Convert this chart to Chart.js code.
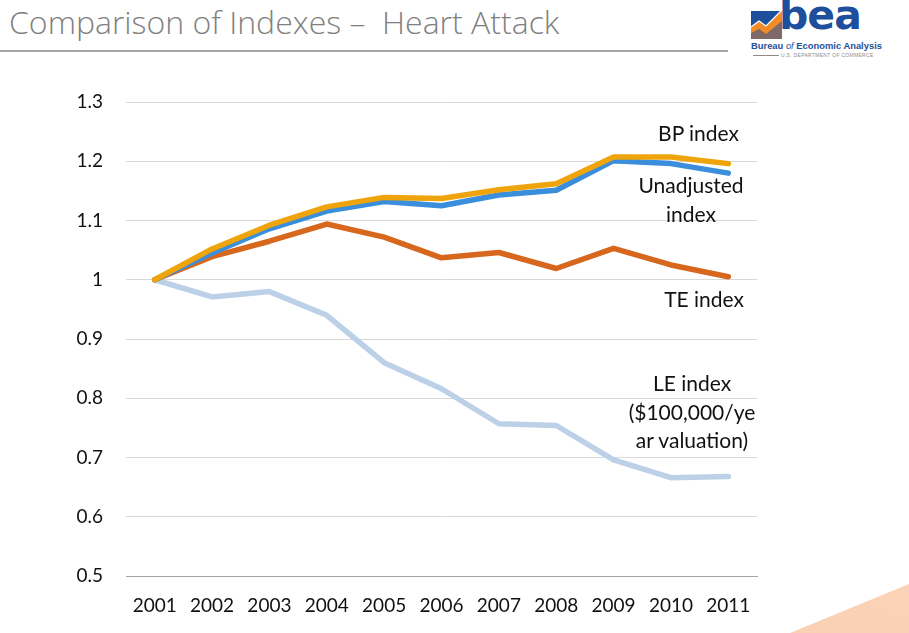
<!DOCTYPE html>
<html>
<head>
<meta charset="utf-8">
<script src="https://cdn.jsdelivr.net/npm/chart.js@4.4.1/dist/chart.umd.min.js"></script>
<style>
  html, body { margin: 0; padding: 0; background: #fff; }
  body { width: 909px; height: 633px; position: relative; overflow: hidden; font-family: Lato, "Open Sans", sans-serif; }
  #title { position: absolute; left: 9px; top: 0px; font-family: "Open Sans", Lato, sans-serif; font-size: 32px; color: #808080; font-weight: 300; white-space: nowrap; }
  #rule { position: absolute; left: 0; top: 50px; width: 728px; height: 2px; background: #a6a6a6; }
  #corner { position: absolute; left: 0; top: 0; width: 909px; height: 633px;
            background: linear-gradient(200deg, #fde7d8 0%, #f9c6a3 100%);
            clip-path: polygon(790px 633px, 909px 584px, 909px 633px); }
  canvas { position: absolute; left: 0; top: 0; }
  .lbl { position: absolute; font-size: 21px; color: #111; line-height: 29px; white-space: nowrap; }
  #logo { position: absolute; left: 751px; top: 0px; width: 130px; height: 62px; }
  #logo .bea { position: absolute; left: 28px; top: -9px; font-family: "DejaVu Sans", sans-serif; font-weight: bold; font-size: 41px; color: #1e4f9c; letter-spacing: -1px; }
  #logo .bur { position: absolute; left: 0px; top: 40px; font-family: "Liberation Sans", Arial, sans-serif; font-size: 9.4px; color: #1e4f9c; font-weight: bold; white-space: nowrap; }
  #logo .doc { position: absolute; left: 30px; top: 52px; font-family: "Liberation Sans", Arial, sans-serif; font-size: 5px; color: #8c8c8c; white-space: nowrap; letter-spacing: 0.3px; }
  #logo .ln { position: absolute; left: 2px; top: 55px; width: 26px; height: 1px; background: #8c8c8c; }
</style>
</head>
<body>
<div id="corner"></div>
<div id="title">Comparison of Indexes –&nbsp; Heart Attack</div>
<div id="rule"></div>
<div id="logo">
  <svg width="32" height="32" style="position:absolute;left:0;top:7px">
    <rect x="0" y="4" width="31" height="28" fill="#1e4f9c"/>
    <polygon points="0,32 0,20 8,14 15,19 31,3 31,32" fill="#f28c28"/>
    <polygon points="0,32 0,26 8,22 15,27 31,14 31,32" fill="#1e4f9c" opacity="0.55"/>
    <polyline points="0,20 8,14 15,19 31,3" fill="none" stroke="#fff" stroke-width="1.2"/>
  </svg>
  <span class="bea">bea</span>
  <span class="bur">Bureau <i style="font-weight:normal">of</i> Economic Analysis</span>
  <span class="ln"></span>
  <span class="doc">U.S. DEPARTMENT OF COMMERCE</span>
</div>
<canvas id="c" width="909" height="633"></canvas>
<div class="lbl" style="left:600px; top:118px; width:139px; text-align:right;">BP index</div>
<div class="lbl" style="left:621px; top:170px; width:140px; text-align:center;">Unadjusted<br>index</div>
<div class="lbl" style="left:600px; top:284px; width:144px; text-align:right;">TE index</div>
<div class="lbl" style="left:622px; top:369px; width:140px; text-align:center; line-height:28.5px;">LE index<br>($100,000/ye<br>ar valuation)</div>
<script>
const years = ["2001","2002","2003","2004","2005","2006","2007","2008","2009","2010","2011"];
const bpIndex = [1.000, 1.052, 1.092, 1.123, 1.139, 1.137, 1.152, 1.162, 1.207, 1.207, 1.196];
const unadjustedIndex = [1.000, 1.045, 1.086, 1.116, 1.132, 1.125, 1.143, 1.151, 1.201, 1.196, 1.180];
const teIndex = [1.000, 1.039, 1.065, 1.094, 1.072, 1.037, 1.046, 1.019, 1.053, 1.025, 1.005];
const leIndex = [1.000, 0.971, 0.980, 0.940, 0.860, 0.816, 0.757, 0.754, 0.696, 0.666, 0.668];
const yMin = 0.5, yMax = 1.3, yStep = 0.1;

const common = { fill: false, tension: 0, pointRadius: 0, borderWidth: 5.5, borderJoinStyle: 'round', borderCapStyle: 'round' };
new Chart(document.getElementById('c'), {
  type: 'line',
  data: {
    labels: years,
    datasets: [
      Object.assign({ label: 'LE index', data: leIndex, borderColor: '#bcd0e8', order: 4 }, common),
      Object.assign({ label: 'TE index', data: teIndex, borderColor: '#d8671e', order: 3 }, common),
      Object.assign({ label: 'Unadjusted index', data: unadjustedIndex, borderColor: '#3a8edc', order: 2 }, common),
      Object.assign({ label: 'BP index', data: bpIndex, borderColor: '#eea40a', order: 1 }, common)
    ]
  },
  options: {
    responsive: false,
    animation: false,
    layout: { padding: { left: 0, top: 102, right: 152, bottom: 0 } },
    plugins: { legend: { display: false }, tooltip: { enabled: false } },
    scales: {
      x: {
        offset: true,
        grid: { display: false, drawTicks: false },
        border: { display: true, color: '#a6a6a6', width: 1 },
        ticks: { color: '#111', font: { family: 'Lato, "Open Sans", sans-serif', size: 19 }, padding: 18, maxRotation: 0, autoSkip: false },
        afterFit: s => { s.height = 57; }
      },
      y: {
        min: yMin, max: yMax,
        grid: { color: ctx => ctx.tick.value <= yMin + 1e-9 ? '#a6a6a6' : '#d9d9d9', drawTicks: false, lineWidth: 1 },
        border: { display: false },
        ticks: { stepSize: yStep, color: '#111', font: { family: 'Lato, "Open Sans", sans-serif', size: 19 }, padding: 23,
                 callback: v => String(Math.round(v * 10) / 10) },
        afterFit: s => { s.width = 126; }
      }
    }
  }
});
</script>
</body>
</html>
